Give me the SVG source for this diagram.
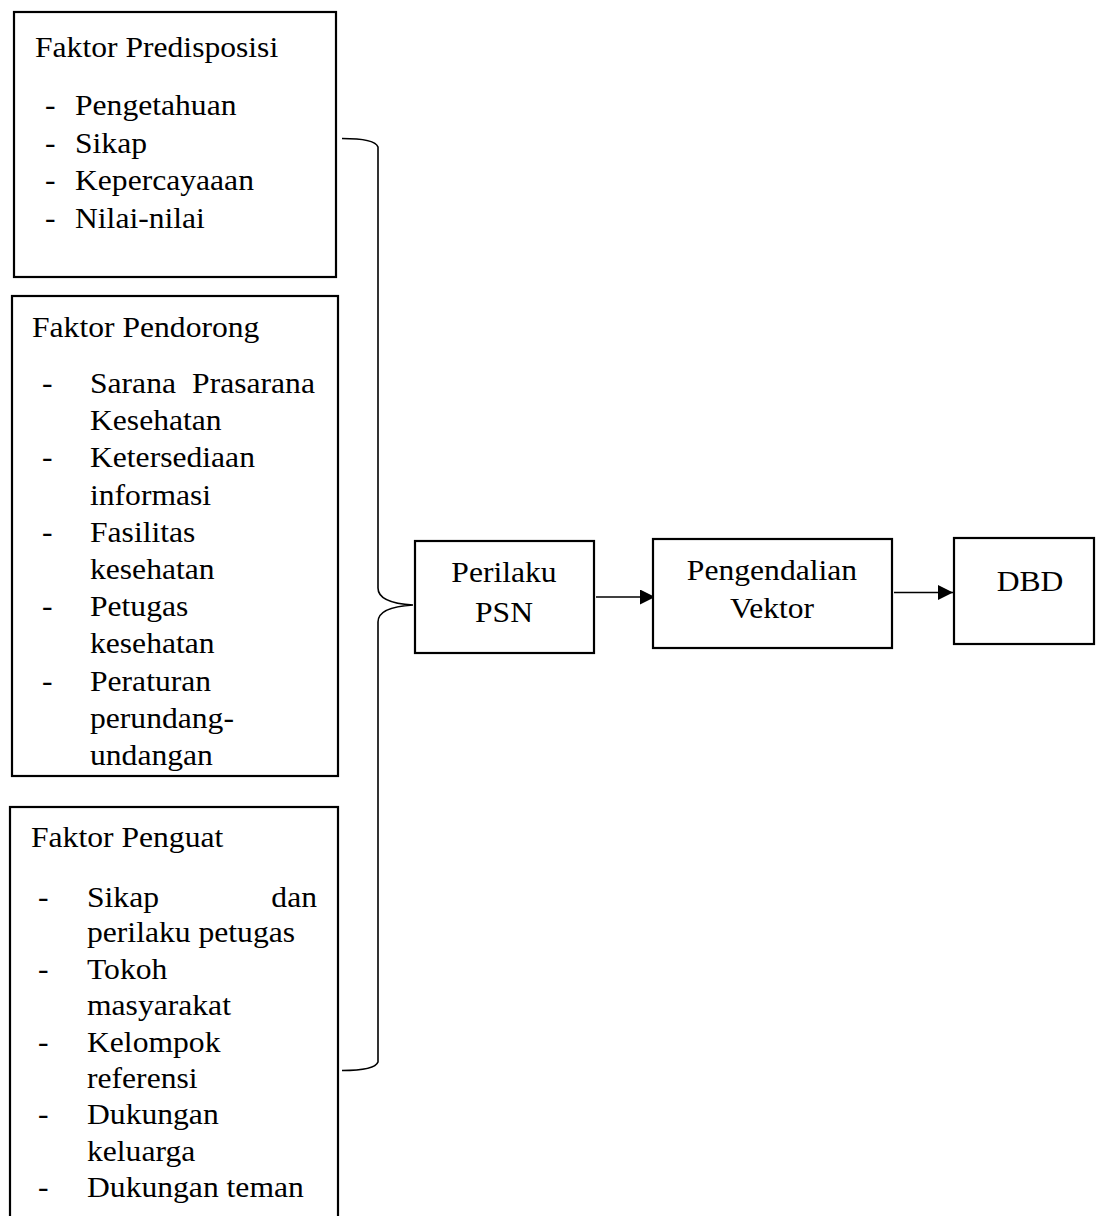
<svg xmlns="http://www.w3.org/2000/svg" width="1096" height="1216" viewBox="0 0 1096 1216">
<style>
.box{fill:#fff;stroke:#000;stroke-width:2.2}
.t{font-family:"Liberation Serif","Times New Roman",serif;font-size:29px;fill:#000}
.m{text-anchor:middle}
.e{text-anchor:end}
.con{fill:none;stroke:#000;stroke-width:1.6}
</style>
<defs>
<marker id="ah" markerUnits="userSpaceOnUse" markerWidth="16" markerHeight="16" refX="15" refY="7.5" orient="auto">
<path d="M0,0 L15,7.5 L0,15 Z" fill="#000"/>
</marker>
</defs>
<rect width="1096" height="1216" fill="#fff"/>
<g id="connectors">
<path class="con" d="M342,138.5 Q375,138.5 378,147 L378,588 Q378,603 413,605 Q378,607 378,622 L378,1062 Q375,1070.5 342,1070.5"/>
<line class="con" x1="596" y1="597" x2="655" y2="597" marker-end="url(#ah)"/>
<line class="con" x1="894" y1="592.5" x2="953" y2="592.5" marker-end="url(#ah)"/>
</g>
<g id="predisposisi">
<rect class="box" x="14" y="12" width="322" height="265"/>
<g transform="translate(35,0) scale(1.09,1)">
<text class="t" x="0" y="57.5">Faktor Predisposisi</text>
<text class="t" x="9.2" y="115">-</text><text class="t" x="36.7" y="115">Pengetahuan</text>
<text class="t" x="9.2" y="153">-</text><text class="t" x="36.7" y="153">Sikap</text>
<text class="t" x="9.2" y="190.5">-</text><text class="t" x="36.7" y="190.5">Kepercayaaan</text>
<text class="t" x="9.2" y="228">-</text><text class="t" x="36.7" y="228">Nilai-nilai</text>
</g>
</g>
<g id="pendorong">
<rect class="box" x="12" y="296" width="326" height="480"/>
<g transform="translate(32,0) scale(1.09,1)">
<text class="t" x="0" y="337">Faktor Pendorong</text>
<text class="t" x="9.2" y="393">-</text><text class="t" x="53.2" y="393">Sarana</text><text class="t e" x="259.6" y="393">Prasarana</text>
<text class="t" x="53.2" y="430">Kesehatan</text>
<text class="t" x="9.2" y="467.4">-</text><text class="t" x="53.2" y="467.4">Ketersediaan</text>
<text class="t" x="53.2" y="504.6">informasi</text>
<text class="t" x="9.2" y="541.8">-</text><text class="t" x="53.2" y="541.8">Fasilitas</text>
<text class="t" x="53.2" y="579">kesehatan</text>
<text class="t" x="9.2" y="616.2">-</text><text class="t" x="53.2" y="616.2">Petugas</text>
<text class="t" x="53.2" y="653.4">kesehatan</text>
<text class="t" x="9.2" y="690.6">-</text><text class="t" x="53.2" y="690.6">Peraturan</text>
<text class="t" x="53.2" y="727.8">perundang-</text>
<text class="t" x="53.2" y="765">undangan</text>
</g>
</g>
<g id="penguat">
<rect class="box" x="10" y="807" width="328" height="430"/>
<g transform="translate(31,0) scale(1.09,1)">
<text class="t" x="0" y="847">Faktor Penguat</text>
<text class="t" x="6.4" y="907">-</text><text class="t" x="51.4" y="907">Sikap</text><text class="t e" x="262.4" y="907">dan</text>
<text class="t" x="51.4" y="942.4">perilaku petugas</text>
<text class="t" x="6.4" y="978.8">-</text><text class="t" x="51.4" y="978.8">Tokoh</text>
<text class="t" x="51.4" y="1015.2">masyarakat</text>
<text class="t" x="6.4" y="1051.6">-</text><text class="t" x="51.4" y="1051.6">Kelompok</text>
<text class="t" x="51.4" y="1088">referensi</text>
<text class="t" x="6.4" y="1124.4">-</text><text class="t" x="51.4" y="1124.4">Dukungan</text>
<text class="t" x="51.4" y="1160.8">keluarga</text>
<text class="t" x="6.4" y="1197.2">-</text><text class="t" x="51.4" y="1197.2">Dukungan teman</text>
</g>
</g>
<g id="perilaku">
<rect class="box" x="415" y="541" width="179" height="112"/>
<g transform="translate(504,0) scale(1.09,1)">
<text class="t m" x="0" y="582">Perilaku</text>
<text class="t m" x="0" y="622">PSN</text>
</g>
</g>
<g id="pengendalian">
<rect class="box" x="653" y="539" width="239" height="109"/>
<g transform="translate(772,0) scale(1.09,1)">
<text class="t m" x="0" y="580">Pengendalian</text>
<text class="t m" x="0" y="618">Vektor</text>
</g>
</g>
<g id="dbd">
<rect class="box" x="954" y="538" width="140" height="106"/>
<g transform="translate(1030,0) scale(1.09,1)">
<text class="t m" x="0" y="591">DBD</text>
</g>
</g>
</svg>
